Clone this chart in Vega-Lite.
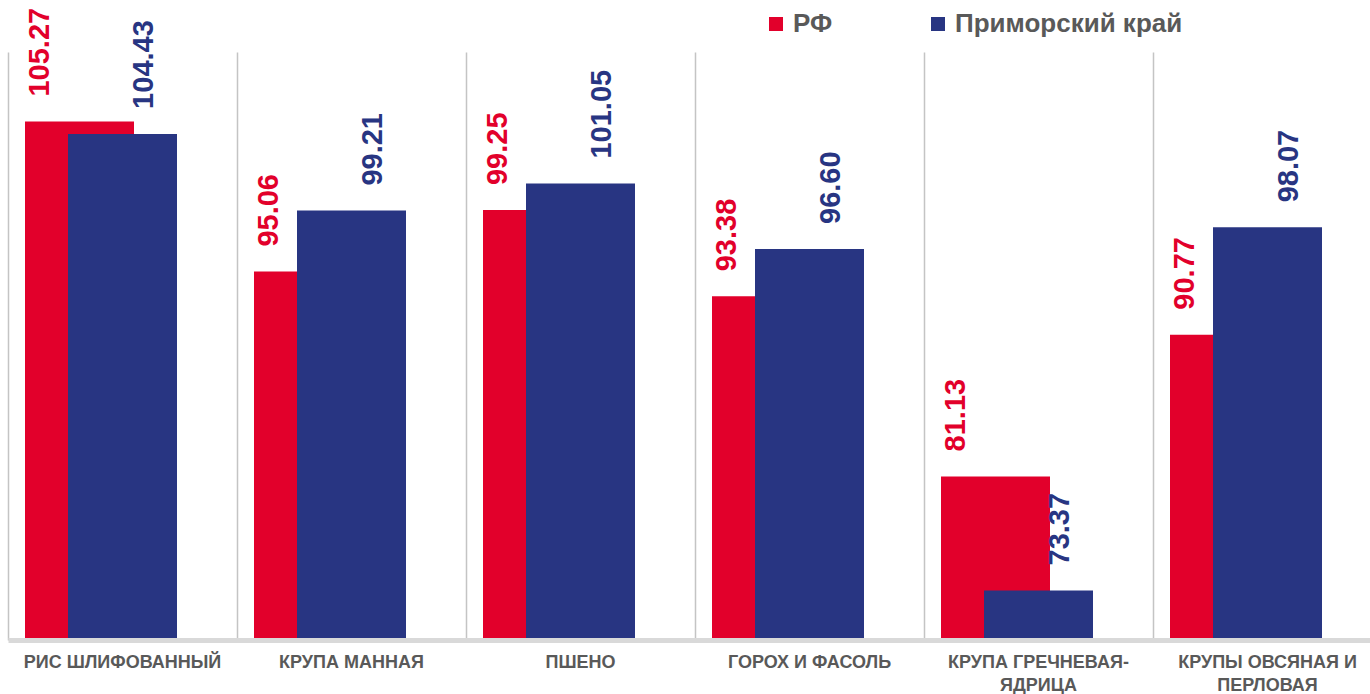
{
  "$schema": "https://vega.github.io/schema/vega-lite/v6.json",
  "width": 1362,
  "height": 588,
  "autosize": {"type": "none"},
  "padding": {"left": 8, "top": 52, "right": 0, "bottom": 54},
  "background": "#ffffff",
  "config": {"view": {"stroke": null}},
  "data": {"values": [
    {"cat": "РИС ШЛИФОВАННЫЙ", "series": "РФ", "value": 105.27},
    {"cat": "РИС ШЛИФОВАННЫЙ", "series": "Приморский край", "value": 104.43},
    {"cat": "КРУПА МАННАЯ", "series": "РФ", "value": 95.06},
    {"cat": "КРУПА МАННАЯ", "series": "Приморский край", "value": 99.21},
    {"cat": "ПШЕНО", "series": "РФ", "value": 99.25},
    {"cat": "ПШЕНО", "series": "Приморский край", "value": 101.05},
    {"cat": "ГОРОХ И ФАСОЛЬ", "series": "РФ", "value": 93.38},
    {"cat": "ГОРОХ И ФАСОЛЬ", "series": "Приморский край", "value": 96.60},
    {"cat": "КРУПА ГРЕЧНЕВАЯ-ЯДРИЦА", "series": "РФ", "value": 81.13},
    {"cat": "КРУПА ГРЕЧНЕВАЯ-ЯДРИЦА", "series": "Приморский край", "value": 73.37},
    {"cat": "КРУПЫ ОВСЯНАЯ И ПЕРЛОВАЯ", "series": "РФ", "value": 90.77},
    {"cat": "КРУПЫ ОВСЯНАЯ И ПЕРЛОВАЯ", "series": "Приморский край", "value": 98.07}
  ]},
  "encoding": {
    "x": {
      "field": "cat", "type": "nominal", "sort": null,
      "scale": {"range": [0, 1374], "paddingInner": 0, "paddingOuter": 0},
      "axis": {
        "title": null,
        "labelAngle": 0,
        "labelFont": "Liberation Sans",
        "labelFontWeight": "bold",
        "labelFontSize": 18,
        "labelColor": "#595959",
        "labelPadding": 13,
        "labelLineHeight": 23,
        "labelBaseline": "top",
        "labelLimit": 400,
        "labelExpr": "datum.label == 'КРУПА ГРЕЧНЕВАЯ-ЯДРИЦА' ? ['КРУПА ГРЕЧНЕВАЯ-', 'ЯДРИЦА'] : datum.label == 'КРУПЫ ОВСЯНАЯ И ПЕРЛОВАЯ' ? ['КРУПЫ ОВСЯНАЯ И', 'ПЕРЛОВАЯ'] : datum.label",
        "ticks": false,
        "domainColor": "#d9d9d9",
        "domainWidth": 5,
        "grid": true,
        "gridColor": "#c4c4c4",
        "gridWidth": 1.5,
        "bandPosition": 0,
        "zindex": 1
      }
    },
    "y": {
      "field": "value", "type": "quantitative",
      "scale": {"domain": [70, 110], "zero": false, "nice": false},
      "axis": null
    },
    "color": {
      "field": "series", "type": "nominal",
      "scale": {"domain": ["РФ", "Приморский край"], "range": ["#e2002b", "#283582"]},
      "legend": {
        "title": null,
        "orient": "none",
        "legendX": 755,
        "legendY": -41,
        "direction": "horizontal",
        "symbolType": "square",
        "symbolSize": 196,
        "symbolStrokeWidth": 0,
        "labelFont": "Liberation Sans",
        "labelFontWeight": "bold",
        "labelFontSize": 26,
        "labelColor": "#595959",
        "labelOffset": 4,
        "columnPadding": 92,
        "labelLimit": 400
      }
    }
  },
  "layer": [
    {
      "transform": [{"filter": "datum.series == 'РФ'"}],
      "mark": {"type": "bar", "width": 109, "xOffset": -43},
      "encoding": {"y2": {"datum": 70}}
    },
    {
      "transform": [{"filter": "datum.series == 'Приморский край'"}],
      "mark": {"type": "bar", "width": 109, "xOffset": 0},
      "encoding": {"y2": {"datum": 70}}
    },
    {
      "transform": [{"filter": "datum.series == 'РФ'"}],
      "mark": {"type": "text", "angle": 270, "align": "left", "baseline": "middle", "xOffset": -83, "yOffset": -25, "font": "Liberation Sans", "fontWeight": "bold", "fontSize": 29},
      "encoding": {"text": {"field": "value", "type": "quantitative", "format": ".2f"}}
    },
    {
      "transform": [{"filter": "datum.series == 'Приморский край'"}],
      "mark": {"type": "text", "angle": 270, "align": "left", "baseline": "middle", "xOffset": 21, "yOffset": -25, "font": "Liberation Sans", "fontWeight": "bold", "fontSize": 29},
      "encoding": {"text": {"field": "value", "type": "quantitative", "format": ".2f"}}
    }
  ]
}
